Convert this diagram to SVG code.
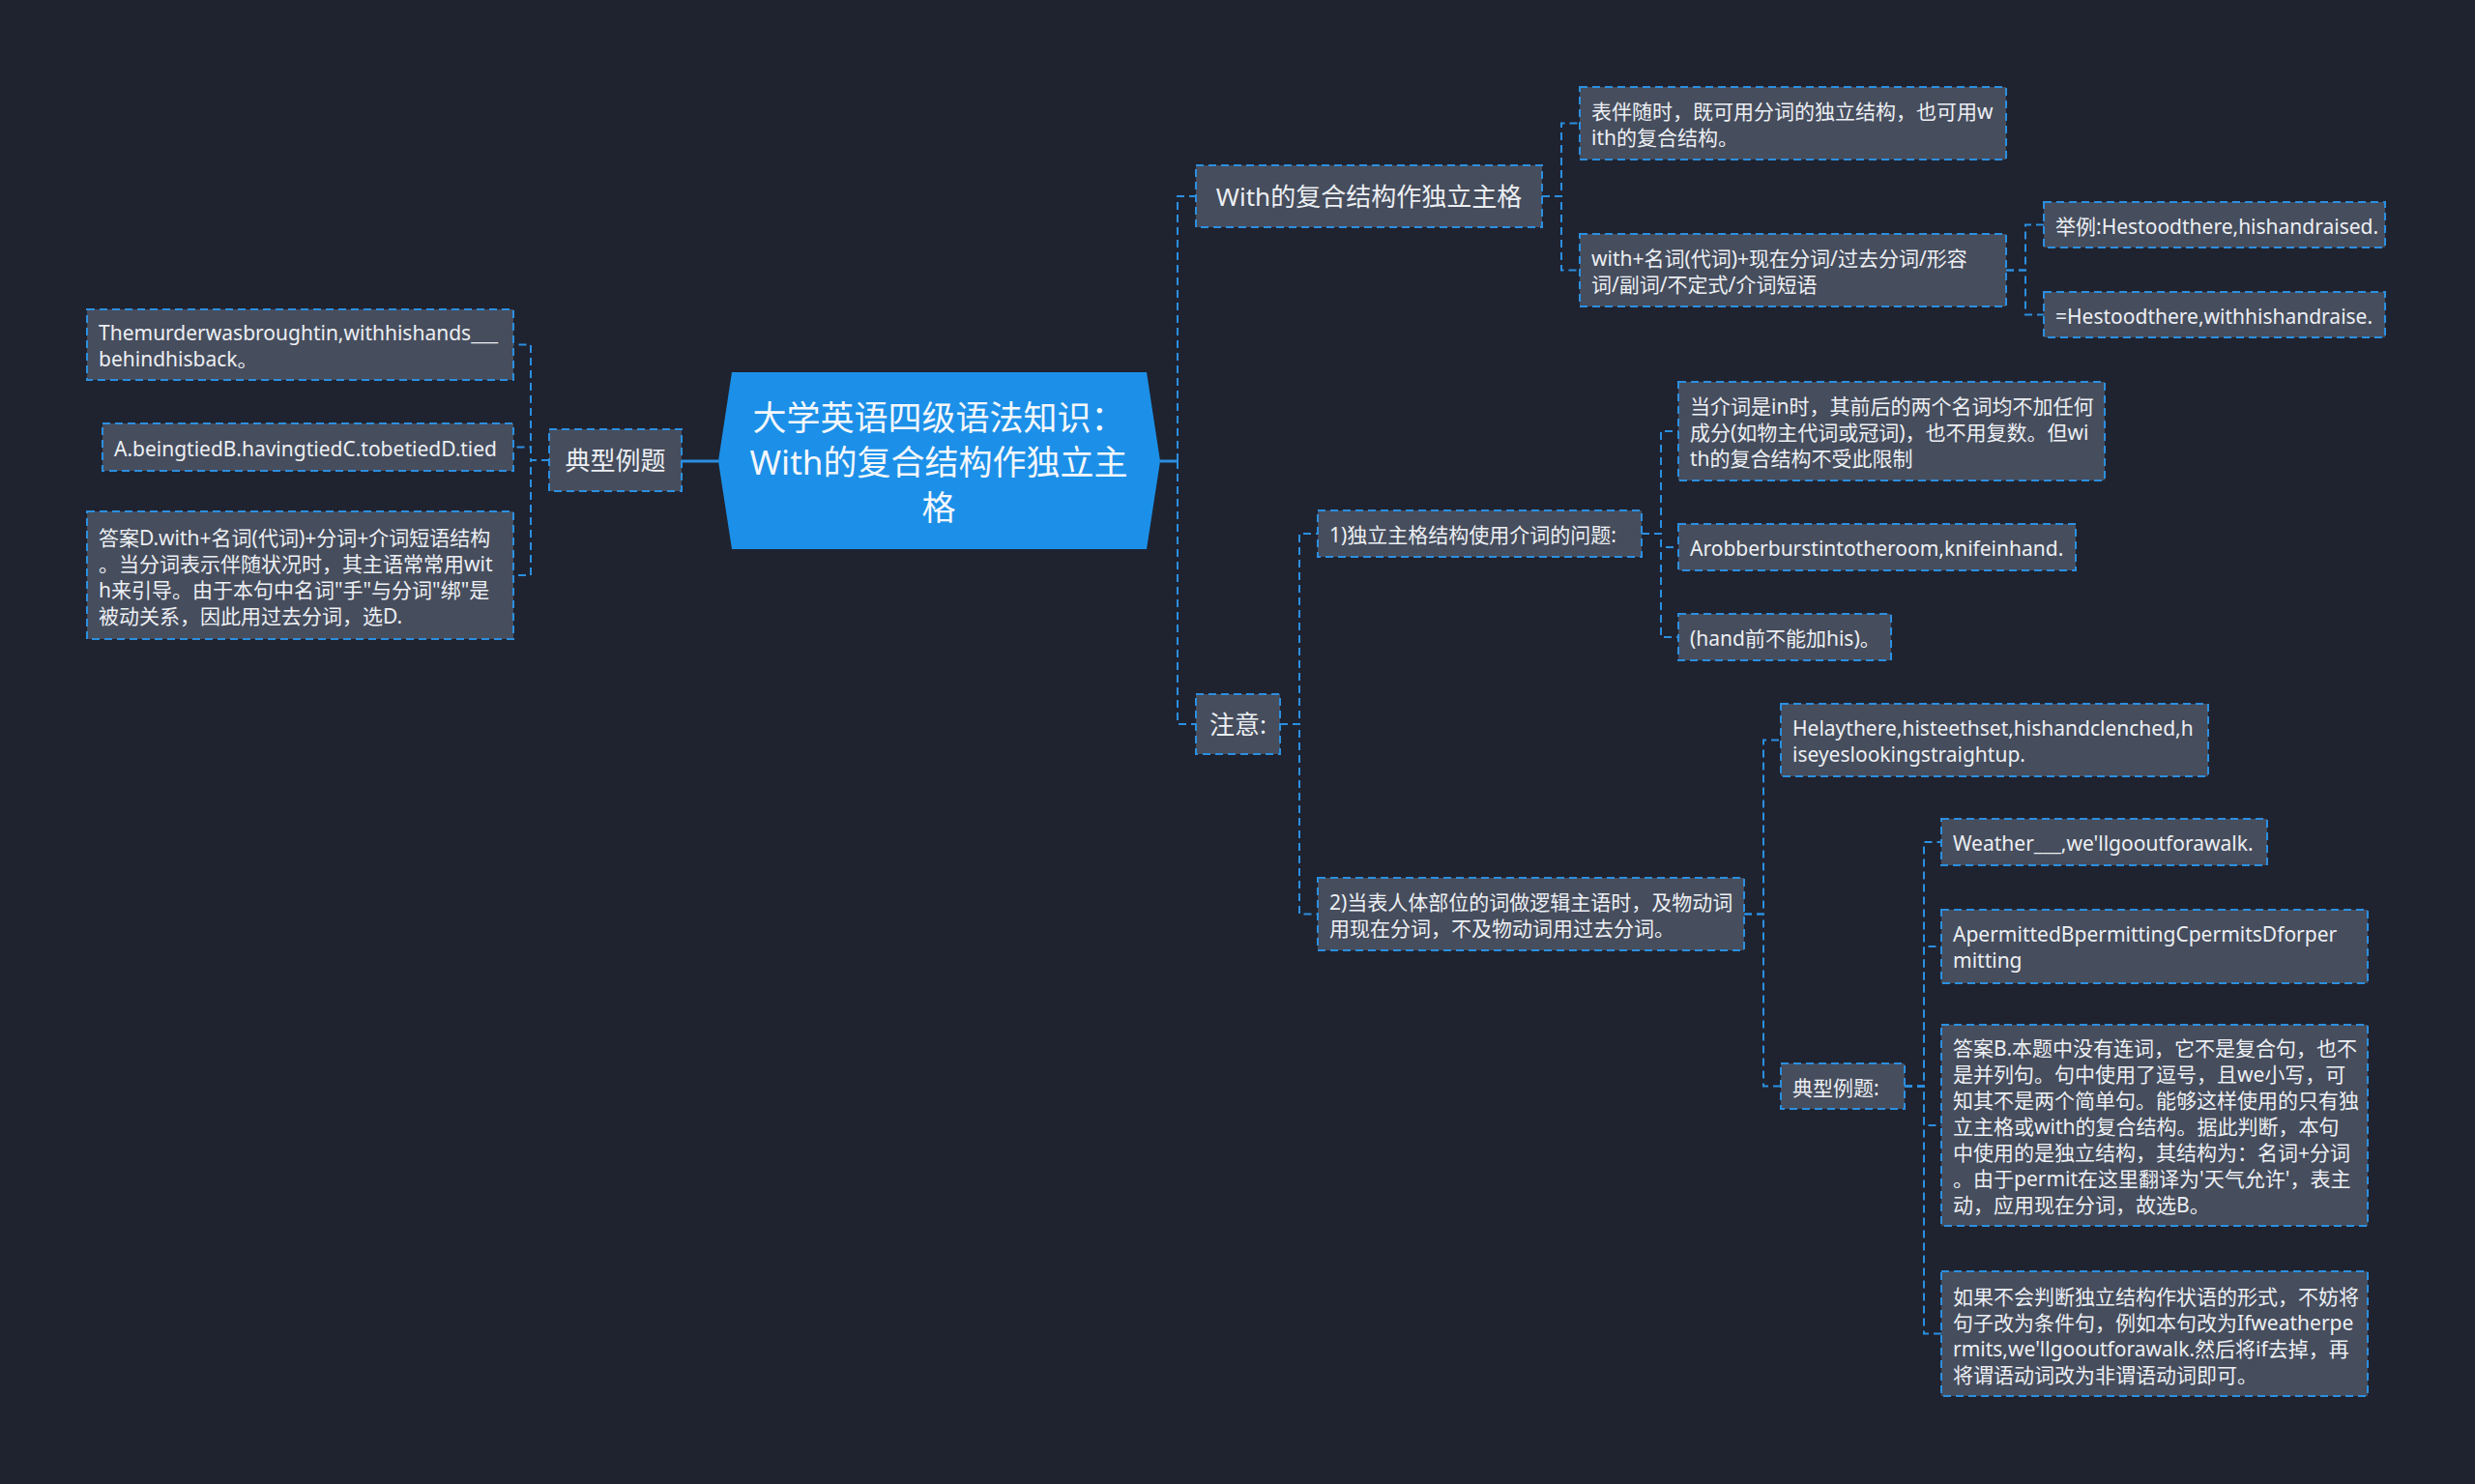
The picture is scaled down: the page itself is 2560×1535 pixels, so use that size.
<svg xmlns="http://www.w3.org/2000/svg" width="2560" height="1535" viewBox="0 0 2560 1535">
<style>
.bg{fill:#1f2330}
.n{fill:#464d5d;stroke:#2b8fe0;stroke-width:2;stroke-dasharray:8 5}
.t{font-family:"Noto Sans","Noto Sans CJK SC",sans-serif;font-size:21px;fill:#eceff3}
.t2{font-family:"Noto Sans","Noto Sans CJK SC",sans-serif;font-size:26px;fill:#eceff3}
.rt{font-family:"Noto Sans","Noto Sans CJK SC",sans-serif;font-size:35px;fill:#f4f7fb;text-anchor:middle}
.c{fill:none;stroke:#2b8fe0;stroke-width:2;stroke-dasharray:8 5}
.s{fill:none;stroke:#2b8fe0;stroke-width:3}
</style>
<rect class="bg" x="0" y="0" width="2560" height="1535"/>
<g id="connectors">
<path class="s" d="M705,477 H743"/>
<path class="s" d="M1200,477 H1218"/>
<path class="c" d="M568,476 H549 V356.5 H531"/>
<path class="c" d="M568,476 H549 V462.5 H531"/>
<path class="c" d="M568,476 H549 V595 H531"/>
<path class="c" d="M1218,477 V203 H1237"/>
<path class="c" d="M1218,477 V749 H1237"/>
<path class="c" d="M1595,203 H1615 V127.5 H1634"/>
<path class="c" d="M1595,203 H1615 V279.5 H1634"/>
<path class="c" d="M2075,279.5 H2095 V232.5 H2114"/>
<path class="c" d="M2075,279.5 H2095 V325.5 H2114"/>
<path class="c" d="M1324,749 H1344 V552 H1363"/>
<path class="c" d="M1324,749 H1344 V945.5 H1363"/>
<path class="c" d="M1698,552 H1718 V446 H1736"/>
<path class="c" d="M1698,552 H1718 V566 H1736"/>
<path class="c" d="M1698,552 H1718 V659 H1736"/>
<path class="c" d="M1804,945.5 H1824 V765.5 H1842"/>
<path class="c" d="M1804,945.5 H1824 V1123.5 H1842"/>
<path class="c" d="M1970,1123.5 H1990 V871 H2008"/>
<path class="c" d="M1970,1123.5 H1990 V979 H2008"/>
<path class="c" d="M1970,1123.5 H1990 V1164 H2008"/>
<path class="c" d="M1970,1123.5 H1990 V1379.5 H2008"/>
</g>
<g id="root">
<polygon points="743,477 757,385 1186,385 1200,477 1186,568 757,568" fill="#1c90e8"/>
<text class="rt" x="971" y="445">大学英语四级语法知识：</text>
<text class="rt" x="971" y="491">With的复合结构作独立主</text>
<text class="rt" x="971" y="538">格</text>
</g>
<g id="n-typical-left">
<rect class="n" x="568" y="444" width="137" height="64"/>
<text class="t2" x="636.5" y="486" text-anchor="middle">典型例题</text>
</g>
<g id="n-a1">
<rect class="n" x="90" y="320" width="441" height="73"/>
<text class="t" x="102" y="352">Themurderwasbroughtin,withhishands___</text>
<text class="t" x="102" y="379">behindhisback。</text>
</g>
<g id="n-a2">
<rect class="n" x="106" y="438" width="425" height="49"/>
<text class="t" x="118" y="472">A.beingtiedB.havingtiedC.tobetiedD.tied</text>
</g>
<g id="n-a3">
<rect class="n" x="90" y="529" width="441" height="132"/>
<text class="t" x="102" y="564">答案D.with+名词(代词)+分词+介词短语结构</text>
<text class="t" x="102" y="591">。当分词表示伴随状况时，其主语常常用wit</text>
<text class="t" x="102" y="618">h来引导。由于本句中名词&quot;手&quot;与分词&quot;绑&quot;是</text>
<text class="t" x="102" y="645">被动关系，因此用过去分词，选D.</text>
</g>
<g id="n-with">
<rect class="n" x="1237" y="171" width="358" height="64"/>
<text class="t2" x="1416" y="213" text-anchor="middle">With的复合结构作独立主格</text>
</g>
<g id="n-c1">
<rect class="n" x="1634" y="90" width="441" height="75"/>
<text class="t" x="1646" y="123">表伴随时，既可用分词的独立结构，也可用w</text>
<text class="t" x="1646" y="150">ith的复合结构。</text>
</g>
<g id="n-c2">
<rect class="n" x="1634" y="242" width="441" height="75"/>
<text class="t" x="1646" y="275">with+名词(代词)+现在分词/过去分词/形容</text>
<text class="t" x="1646" y="302">词/副词/不定式/介词短语</text>
</g>
<g id="n-d1">
<rect class="n" x="2114" y="209" width="353" height="47"/>
<text class="t" x="2126" y="242">举例:Hestoodthere,hishandraised.</text>
</g>
<g id="n-d2">
<rect class="n" x="2114" y="302" width="353" height="47"/>
<text class="t" x="2126" y="335">=Hestoodthere,withhishandraise.</text>
</g>
<g id="n-note">
<rect class="n" x="1237" y="718" width="87" height="62"/>
<text class="t2" x="1280.5" y="759" text-anchor="middle">注意:</text>
</g>
<g id="n-e1">
<rect class="n" x="1363" y="528" width="335" height="48"/>
<text class="t" x="1375" y="561">1)独立主格结构使用介词的问题:</text>
</g>
<g id="n-e2">
<rect class="n" x="1363" y="908" width="441" height="75"/>
<text class="t" x="1375" y="941">2)当表人体部位的词做逻辑主语时，及物动词</text>
<text class="t" x="1375" y="968">用现在分词，不及物动词用过去分词。</text>
</g>
<g id="n-f1">
<rect class="n" x="1736" y="395" width="441" height="102"/>
<text class="t" x="1748" y="428">当介词是in时，其前后的两个名词均不加任何</text>
<text class="t" x="1748" y="455">成分(如物主代词或冠词)，也不用复数。但wi</text>
<text class="t" x="1748" y="482">th的复合结构不受此限制</text>
</g>
<g id="n-f2">
<rect class="n" x="1736" y="542" width="411" height="48"/>
<text class="t" x="1748" y="575">Arobberburstintotheroom,knifeinhand.</text>
</g>
<g id="n-f3">
<rect class="n" x="1736" y="635" width="220" height="48"/>
<text class="t" x="1748" y="668">(hand前不能加his)。</text>
</g>
<g id="n-g1">
<rect class="n" x="1842" y="728" width="442" height="75"/>
<text class="t" x="1854" y="761">Helaythere,histeethset,hishandclenched,h</text>
<text class="t" x="1854" y="788">iseyeslookingstraightup.</text>
</g>
<g id="n-g2">
<rect class="n" x="1842" y="1100" width="128" height="47"/>
<text class="t" x="1854" y="1133">典型例题:</text>
</g>
<g id="n-h1">
<rect class="n" x="2008" y="847" width="337" height="48"/>
<text class="t" x="2020" y="880">Weather___,we'llgooutforawalk.</text>
</g>
<g id="n-h2">
<rect class="n" x="2008" y="941" width="441" height="76"/>
<text class="t" x="2020" y="974">ApermittedBpermittingCpermitsDforper</text>
<text class="t" x="2020" y="1001">mitting</text>
</g>
<g id="n-h3">
<rect class="n" x="2008" y="1060" width="441" height="208"/>
<text class="t" x="2020" y="1092">答案B.本题中没有连词，它不是复合句，也不</text>
<text class="t" x="2020" y="1119">是并列句。句中使用了逗号，且we小写，可</text>
<text class="t" x="2020" y="1146">知其不是两个简单句。能够这样使用的只有独</text>
<text class="t" x="2020" y="1173">立主格或with的复合结构。据此判断，本句</text>
<text class="t" x="2020" y="1200">中使用的是独立结构，其结构为：名词+分词</text>
<text class="t" x="2020" y="1227">。由于permit在这里翻译为'天气允许'，表主</text>
<text class="t" x="2020" y="1254">动，应用现在分词，故选B。</text>
</g>
<g id="n-h4">
<rect class="n" x="2008" y="1315" width="441" height="129"/>
<text class="t" x="2020" y="1349">如果不会判断独立结构作状语的形式，不妨将</text>
<text class="t" x="2020" y="1376">句子改为条件句，例如本句改为Ifweatherpe</text>
<text class="t" x="2020" y="1403">rmits,we'llgooutforawalk.然后将if去掉，再</text>
<text class="t" x="2020" y="1430">将谓语动词改为非谓语动词即可。</text>
</g>
</svg>
